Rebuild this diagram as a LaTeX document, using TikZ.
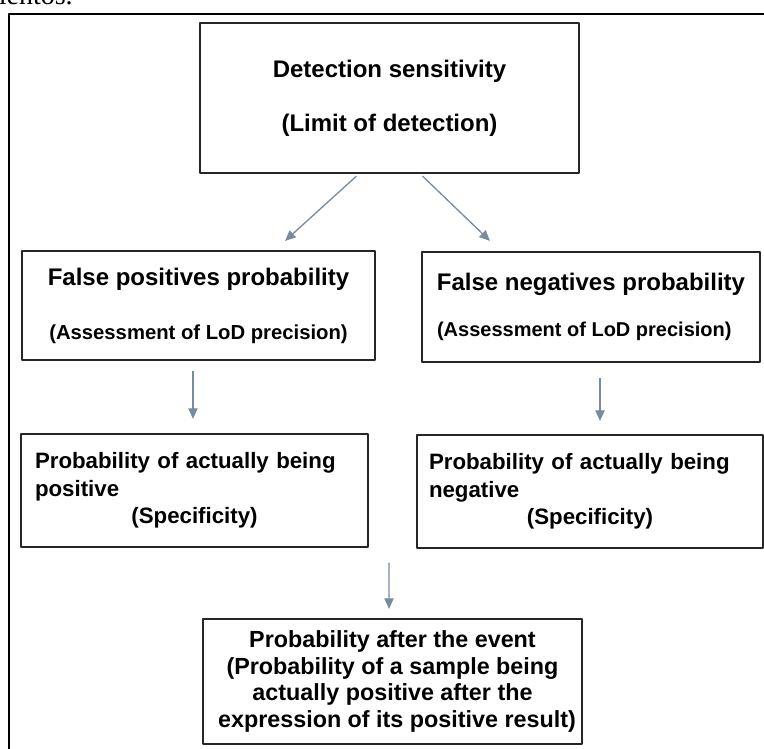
\documentclass[tikz,border=0pt]{standalone}
\usepackage{fontspec}
\setmainfont{Liberation Sans}
\newfontfamily\pageserif{Liberation Serif}
\usetikzlibrary{calc,arrows.meta}
\definecolor{arrowgray}{RGB}{120,140,160}
\begin{document}
\begin{tikzpicture}[line join=round, >={Triangle[length=8pt,width=7pt]}, x=0.75pt, y=-0.75pt]
	\tikzset{box/.style={draw=black!85, line width=1.6pt, inner sep=0pt},
		ttl/.style={font=\bfseries\fontsize{18}{22}\selectfont},
		txt/.style={font=\bfseries\fontsize{16.7}{20.6}\selectfont},
		arr/.style={->, arrowgray, line width=1pt}}
	\def\pxs{0.75pt}
	\useasboundingbox (0,0) rectangle (764,749);
	\node[anchor=base east, inner sep=0pt, font=\pageserif\fontsize{21}{24}\selectfont] (prev) at (73,5) {mientos.};
	\draw[line width=1.6pt] (764,14) -| (9,749);
	\node[box, ttl, align=center, minimum width=379*\pxs, minimum height=150*\pxs] (top) at (389.5,98) {Detection sensitivity\\[18.5pt](Limit of detection)};
	\node[box, ttl, align=center, minimum width=353*\pxs, minimum height=109*\pxs] (fp) at (198.5,305.5) {False positives probability\\[18.5pt]{\fontsize{15.2}{18}\selectfont(Assessment of LoD precision)}};
	\node[box, ttl, align=center, minimum width=338*\pxs, minimum height=110*\pxs] (fn) at (591,307) {False negatives probability\\[13pt]{\fontsize{15}{18}\selectfont(Assessment of LoD precision)\hspace*{10pt}}};
	\node[box, txt, align=left, text width=319*\pxs, inner xsep=14*\pxs, minimum height=113*\pxs] (pp) at (194.5,490.5) {Probability of actually being\\positive\\\makebox[239.25pt]{(Specificity)}};
	\node[box, txt, align=left, text width=322*\pxs, inner xsep=12*\pxs, minimum height=113*\pxs] (pn) at (590,491.5) {Probability of actually being\\negative\\\makebox[241.5pt]{(Specificity)}};
	\node[box, align=center, font=\bfseries\fontsize{17.5}{20}\selectfont, minimum width=379*\pxs, minimum height=125*\pxs] (post) at (392.5,681.5) {Probability after the event\\(Probability of a sample being\hspace*{30pt}\\actually positive after the\hspace*{9pt}\\\hspace*{6.75pt}expression of its positive result)};
	\foreach \a/\ax/\ay/\b/\bx/\by in {top/-33/2/fp/86.5/-9, top/33/2/fn/-101/-10, fp/-5.5/10/pp/-1.5/-14, fn/9/15/pn/10/-13}
		\draw[arr] ($(\a.south)+(\ax,\ay)$) -- ($(\b.north)+(\bx,\by)$);
	\coordinate (mid) at ($(pp.south east)!0.5!(pn.south west)$);
	\draw[arr] ($(mid)+(-3.5,14)$) -- ($(post.north)+(-3.5,-9)$);
\end{tikzpicture}
\end{document}
